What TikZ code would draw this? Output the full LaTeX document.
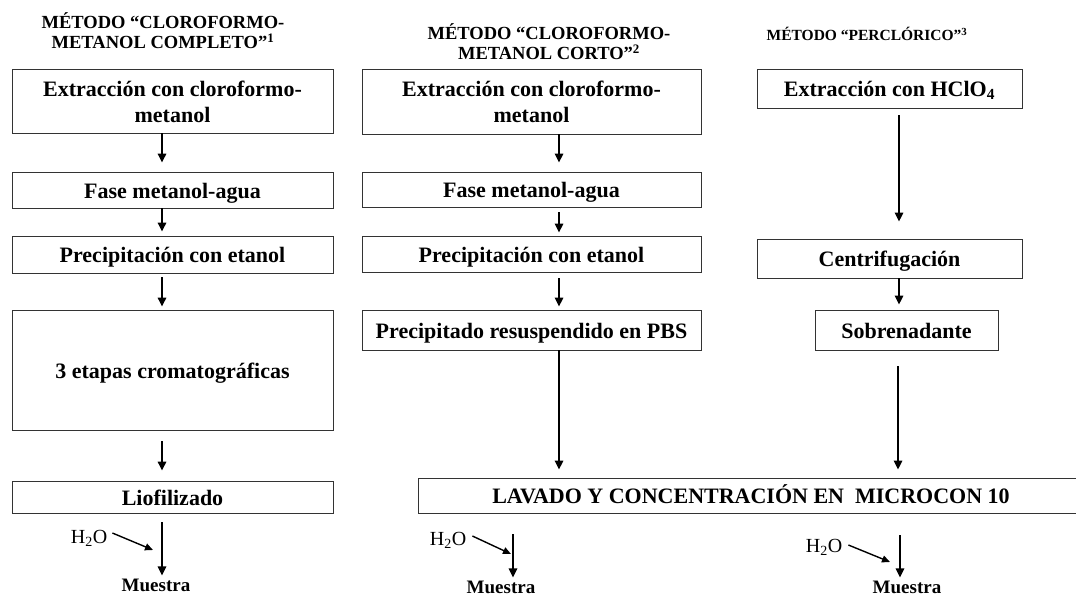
\documentclass[tikz,border=0pt]{standalone}
\usepackage{fontspec}
\setmainfont{Liberation Serif}
\usetikzlibrary{arrows.meta}
\begin{document}
\begin{tikzpicture}[x=1pt,y=-1pt,
  box/.style={draw=black!80,line width=0.9pt,inner sep=0pt,align=center,
    font=\fontsize{22}{26}\selectfont\bfseries,text height=16pt,text depth=0pt},
  box2/.style={box,text height=42pt},
  ttl/.style={inner sep=0pt,align=center,font=\fontsize{18.5}{20}\selectfont\bfseries},
  flow/.style={line width=1.6pt,-{Triangle[length=9pt,width=8.5pt]}},
  feed/.style={line width=1.4pt,-{Triangle[length=8pt,width=7pt]}},
  water/.style={inner sep=0pt,font=\fontsize{20}{22}\selectfont},
  sample/.style={inner sep=0pt,font=\fontsize{19}{21}\selectfont\bfseries}]
\useasboundingbox (0,0) rectangle (1076,597);

% titles
\node[ttl] (t1) at (163,31) {MÉTODO “CLOROFORMO-\\METANOL COMPLETO”\textsuperscript{1}};
\node[ttl] (t2) at (549,42) {MÉTODO “CLOROFORMO-\\METANOL CORTO”\textsuperscript{2}};
\node[ttl,font=\fontsize{15.5}{17}\selectfont\bfseries] (t3) at (867,34) {MÉTODO “PERCLÓRICO”\textsuperscript{3}};

% complete chloroform-methanol method
\node[box2,minimum width=321pt,minimum height=64pt] (c1a) at (172.5,101) {Extracción con cloroformo-\\metanol};
\node[box,minimum width=321pt,minimum height=36pt] (c1b) at (172.5,190) {Fase metanol-agua};
\node[box,minimum width=321pt,minimum height=37pt] (c1c) at (172.5,254.5) {Precipitación con etanol};
\node[box,minimum width=321pt,minimum height=120pt] (c1d) at (172.5,370) {3 etapas cromatográficas};
\node[box,minimum width=321pt,minimum height=32pt] (c1e) at (172.5,497) {Liofilizado};

% short chloroform-methanol method
\node[box2,minimum width=339pt,minimum height=65pt] (c2a) at (531.5,101.5) {Extracción con cloroformo-\\metanol};
\node[box,minimum width=339pt,minimum height=35pt] (c2b) at (531.5,189.5) {Fase metanol-agua};
\node[box,minimum width=339pt,minimum height=36pt] (c2c) at (531.5,254) {Precipitación con etanol};
\node[box,minimum width=339pt,minimum height=40pt] (c2d) at (531.5,330) {Precipitado resuspendido en PBS};

% perchloric method
\node[box,minimum width=265pt,minimum height=39pt] (c3a) at (889.5,88.5) {Extracción con HClO\textsubscript{4}};
\node[box,minimum width=265pt,minimum height=39pt] (c3b) at (889.5,258.5) {Centrifugación};
\node[box,minimum width=183pt,minimum height=40pt] (c3c) at (906.5,330) {Sobrenadante};

% common washing step (runs past the right edge)
\node[box,minimum width=666pt,minimum height=35pt] (lav) at (751,495.5) {LAVADO Y CONCENTRACIÓN EN\ \ MICROCON 10};

% water inputs and samples
\node[water] (h1) at (89,538) {H\textsubscript{2}O};
\node[water] (h2) at (448,540) {H\textsubscript{2}O};
\node[water] (h3) at (824,547) {H\textsubscript{2}O};
\node[sample] (m1) at (156,585) {Muestra};
\node[sample] (m2) at (501,587) {Muestra};
\node[sample] (m3) at (907,587) {Muestra};
\coordinate (j1) at (153,550);
\coordinate (j2) at (511,554);
\coordinate (j3) at (890,562);

% column 1 flow
\draw[flow] ([xshift=-10.5pt]c1a.south) -- ([xshift=-10.5pt,yshift=9pt]c1b.north);
\draw[flow] ([xshift=-10.5pt]c1b.south) -- ([xshift=-10.5pt,yshift=4pt]c1c.north);
\draw[flow] ([xshift=-10.5pt,yshift=-4pt]c1c.south) -- ([xshift=-10.5pt,yshift=3pt]c1d.north);
\draw[flow] ([xshift=-10.5pt,yshift=-11pt]c1d.south) -- ([xshift=-10.5pt,yshift=10pt]c1e.north);
\draw[flow] ([xshift=-10.5pt,yshift=-9pt]c1e.south) -- ([xshift=6pt,yshift=3pt]m1.north);
\draw[feed] ([xshift=5pt,yshift=5pt]h1.east) -- (j1);

% column 2 flow
\draw[flow] ([xshift=27.5pt]c2a.south) -- ([xshift=27.5pt,yshift=9pt]c2b.north);
\draw[flow] ([xshift=27.5pt,yshift=-5pt]c2b.south) -- ([xshift=27.5pt,yshift=3pt]c2c.north);
\draw[flow] ([xshift=27.5pt,yshift=-6pt]c2c.south) -- ([xshift=27.5pt,yshift=3pt]c2d.north);
\draw[flow] ([xshift=27.5pt]c2d.south) -- ([xshift=-192pt,yshift=8pt]lav.north);
\draw[flow] ([xshift=-238pt,yshift=-21pt]lav.south) -- ([xshift=12pt,yshift=3pt]m2.north);
\draw[feed] ([xshift=6pt,yshift=4pt]h2.east) -- (j2);

% column 3 flow
\draw[flow] ([xshift=9.5pt,yshift=-7pt]c3a.south) -- ([xshift=9.5pt,yshift=17pt]c3b.north);
\draw[flow] ([xshift=9.5pt]c3b.south) -- ([xshift=-7.5pt,yshift=5pt]c3c.north);
\draw[flow] ([xshift=-8.5pt,yshift=-16pt]c3c.south) -- ([xshift=147pt,yshift=8pt]lav.north);
\draw[flow] ([xshift=149pt,yshift=-22pt]lav.south) -- ([xshift=-7pt,yshift=3pt]m3.north);
\draw[feed] ([xshift=6pt,yshift=2pt]h3.east) -- (j3);
\end{tikzpicture}
\end{document}
